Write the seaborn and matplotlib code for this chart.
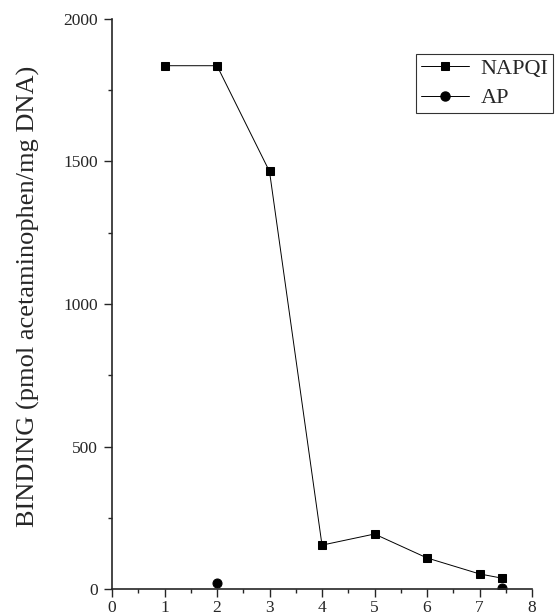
import pandas as pd
import matplotlib.pyplot as plt
import seaborn as sns
from matplotlib.ticker import MultipleLocator

# data
napqi_x = [1, 2, 3, 4, 5, 6, 7, 7.43]
napqi_y = [1836, 1836, 1465, 154, 193, 109, 53, 38]
ap_x = [2, 7.43]
ap_y = [20, 3]

sns.set_style('ticks')
plt.rcParams['font.family'] = ['Liberation Serif', 'DejaVu Serif']

df = pd.concat([
    pd.DataFrame({'x': napqi_x, 'y': napqi_y, 'series': 'NAPQI'}),
    pd.DataFrame({'x': ap_x, 'y': ap_y, 'series': 'AP'}),
])

fig = plt.figure(figsize=(5.55, 6.16), dpi=100)
ax = fig.add_axes([0.2018, 0.0438, 0.7568, 0.9254])

sns.lineplot(data=df[df.series == 'NAPQI'], x='x', y='y', ax=ax, color='black',
             linewidth=0.7, marker='s', markersize=6, markeredgecolor='black',
             label='NAPQI', sort=False)
sns.lineplot(data=df[df.series == 'AP'], x='x', y='y', ax=ax, color='black',
             linewidth=0, marker='o', markersize=6.5, markeredgecolor='black',
             sort=False, legend=False)
# legend handle for AP drawn with a line like the original
ax.plot([], [], color='black', linewidth=0.7, marker='o', markersize=6.5, label='AP')

ax.set_xlim(0, 8)
ax.set_ylim(0, 2000)
ax.xaxis.set_major_locator(MultipleLocator(1))
ax.xaxis.set_minor_locator(MultipleLocator(0.5))
ax.yaxis.set_major_locator(MultipleLocator(500))
ax.yaxis.set_minor_locator(MultipleLocator(250))
ax.tick_params(which='major', direction='out', length=6, width=1, labelsize=12.5, pad=4)
ax.tick_params(axis='x', which='major', pad=2)
ax.tick_params(which='minor', direction='out', length=3, width=1)
sns.despine(ax=ax)
for s in ['left', 'bottom']:
    ax.spines[s].set_linewidth(1.2)

ax.set_xlabel('')
ax.set_ylabel('BINDING (pmol acetaminophen/mg DNA)', fontsize=19)
ax.yaxis.set_label_coords(-0.172, 0.513)

leg = ax.legend(loc='upper left', bbox_to_anchor=(0.724, 0.9386), frameon=True,
                fancybox=False, edgecolor='black', fontsize=16, handlelength=2.2,
                borderpad=0.2, labelspacing=0.4, handletextpad=0.5, borderaxespad=0)
leg.get_frame().set_linewidth(0.8)
leg.set_clip_on(False)

fig.savefig('out.png', dpi=100)
